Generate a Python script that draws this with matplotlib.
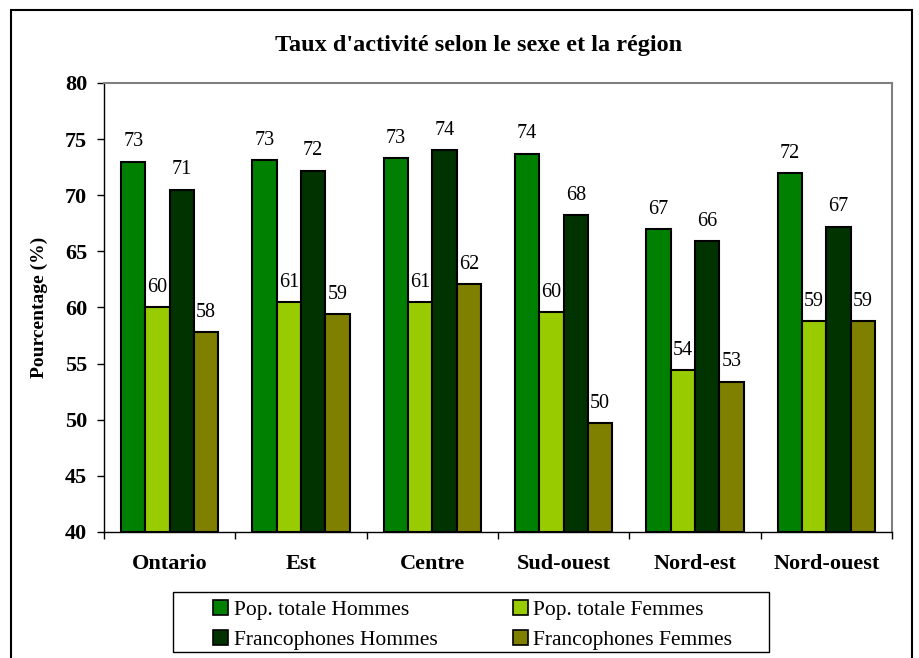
import matplotlib
matplotlib.use('Agg')
import matplotlib.pyplot as plt
from matplotlib.patches import Rectangle, Patch
import numpy as np

plt.rcParams['font.family'] = 'Liberation Serif'

regions = ['Ontario', 'Est', 'Centre', 'Sud-ouest', 'Nord-est', 'Nord-ouest']
pop_hommes = [73.0, 73.1, 73.3, 73.7, 67.0, 72.0]
pop_femmes = [60.0, 60.5, 60.5, 59.6, 54.4, 58.8]
franco_hommes = [70.5, 72.2, 74.0, 68.2, 65.9, 67.2]
franco_femmes = [57.8, 59.4, 62.1, 49.7, 53.4, 58.8]

series = [
    (pop_hommes, 'Pop. totale Hommes', '#008000'),
    (pop_femmes, 'Pop. totale Femmes', '#99CC00'),
    (franco_hommes, 'Francophones Hommes', '#003300'),
    (franco_femmes, 'Francophones Femmes', '#808000'),
]

W, H = 920, 658
fig = plt.figure(figsize=(9.2, 6.58), dpi=100)
ax = fig.add_axes([104/W, 1-532/H, (892-104)/W, (532-83)/H])

x = np.arange(len(regions))
bw = 0.185
for i, (vals, lab, col) in enumerate(series):
    pos = x + (i - 1.5) * bw
    ax.bar(pos, [v - 40 for v in vals], bw, bottom=40, color=col,
           edgecolor='black', linewidth=1.5, label=lab)
    for px, v in zip(pos, vals):
        ax.annotate('%d' % int(v + 0.5), (px, v), xytext=(0, 11),
                    textcoords='offset points', ha='center', va='baseline',
                    fontsize=14.5)

ax.set_xlim(-0.5, len(regions) - 0.5)
ax.set_ylim(40, 80)
ax.set_yticks(range(40, 81, 5))
ax.set_yticklabels([str(v) for v in range(40, 81, 5)], fontsize=16, fontweight='bold')
ax.tick_params(axis='y', direction='out', length=5, width=1, pad=7)

# categories between ticks
ax.set_xticks(np.arange(-0.5, len(regions), 1))
ax.set_xticklabels([])
ax.set_xticks(x, minor=True)
ax.set_xticklabels(regions, minor=True, fontsize=16, fontweight='bold')
ax.tick_params(axis='x', which='major', direction='out', length=5, width=1)
ax.tick_params(axis='x', which='minor', length=0, pad=16)

for s in ['top', 'right']:
    ax.spines[s].set_color('#808080')
    ax.spines[s].set_linewidth(1.5)
for s in ['left', 'bottom']:
    ax.spines[s].set_color('black')
    ax.spines[s].set_linewidth(1)

ax.set_ylabel('Pourcentage (%)', fontsize=14, fontweight='bold')
ax.yaxis.set_label_coords((48-104)/(892-104), 0.5)

fig.text(479/W, 1-46/H, "Taux d'activité selon le sexe et la région",
         ha='center', va='center', fontsize=17.5, fontweight='bold')

# legend
handles = [Patch(facecolor=c, edgecolor='black', linewidth=1.2) for _, _, c in series]
labels = [l for _, l, _ in series]
order = [0, 2, 1, 3]
leg = fig.legend([handles[i] for i in order], [labels[i] for i in order],
                 ncol=2, loc='upper left', bbox_to_anchor=(198/W, 1-585/H),
                 frameon=False, fontsize=15.5, handlelength=0.7, handleheight=0.7,
                 handletextpad=0.25, columnspacing=3.5, labelspacing=0.45,
                 borderpad=0.2)
fig.patches.append(Rectangle((173/W, 1-652/H), (769-173)/W, (652-592)/H,
                             transform=fig.transFigure, fill=False,
                             edgecolor='black', linewidth=1))

# outer frame
fig.patches.append(Rectangle((11/W, -0.05), (912-11)/W, 1.05-10/H,
                             transform=fig.transFigure, fill=False,
                             edgecolor='black', linewidth=1.5))

fig.savefig('out.png', dpi=100)
